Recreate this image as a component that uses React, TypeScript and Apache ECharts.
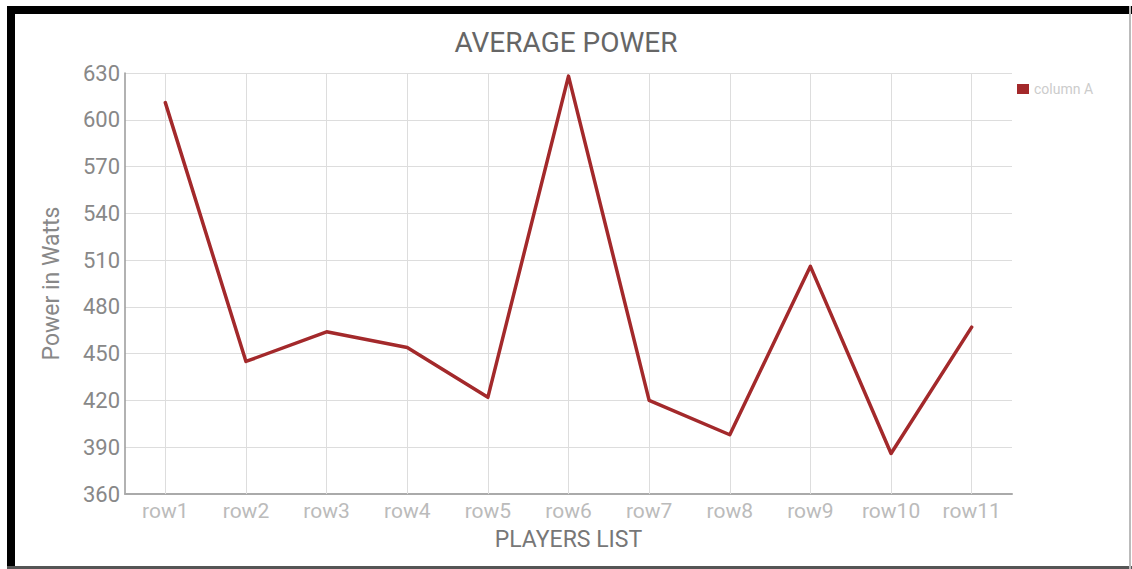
import React, { useEffect, useRef } from "react";
import * as echarts from "echarts";

const categories = ["row1", "row2", "row3", "row4", "row5", "row6", "row7", "row8", "row9", "row10", "row11"];
const columnA = [611, 445, 464, 454, 422, 628, 420, 398, 506, 386, 467];
const yMin = 360;
const yMax = 630;
const yStep = 30;

export default function App() {
  const ref = useRef<HTMLDivElement>(null);
  useEffect(() => {
    document.body.style.margin = "0";
    const chart = echarts.init(ref.current!, undefined, { renderer: "svg" });
    const font = "Roboto, 'Noto Sans', sans-serif";
    chart.setOption({
      animation: false,
      backgroundColor: "#ffffff",
      title: {
        text: "AVERAGE POWER",
        left: "center",
        top: 28,
        padding: 0,
        textStyle: { fontFamily: font, fontSize: 28, fontWeight: "normal", color: "#666" },
      },
      legend: {
        data: ["column A"],
        left: 1012,
        top: 77,
        icon: "rect",
        itemWidth: 12,
        itemHeight: 10,
        itemGap: 6,
        textStyle: { fontFamily: font, fontSize: 14, color: "#cccccc" },
      },
      grid: { left: 125, right: 120, top: 73, bottom: 75, containLabel: false },
      xAxis: {
        type: "category",
        data: categories,
        boundaryGap: true,
        name: "PLAYERS LIST",
        nameLocation: "middle",
        nameGap: 34,
        nameTextStyle: { fontFamily: font, fontSize: 23, color: "#777" },
        axisLine: { lineStyle: { color: "#aaaaaa", width: 2 } },
        axisTick: { show: false },
        axisLabel: { fontFamily: font, fontSize: 21, color: "#bbbbbb", margin: 6 },
        splitLine: { show: false },
      },
      yAxis: {
        type: "value",
        min: yMin,
        max: yMax,
        interval: yStep,
        name: "Power in Watts",
        nameLocation: "middle",
        nameGap: 62,
        nameTextStyle: { fontFamily: font, fontSize: 23, color: "#888" },
        axisLine: { show: true, lineStyle: { color: "#999999", width: 1.5 } },
        axisTick: { show: false },
        axisLabel: { fontFamily: font, fontSize: 22, color: "#888", margin: 5 },
        splitLine: { show: true, lineStyle: { color: "#dddddd", width: 1 } },
      },
      graphic: [
        { type: "rect", shape: { x: 7, y: 6, width: 1125, height: 8 }, style: { fill: "#000" }, silent: true },
        { type: "rect", shape: { x: 7, y: 6, width: 8, height: 563 }, style: { fill: "#000" }, silent: true },
        { type: "rect", shape: { x: 7, y: 566, width: 1125, height: 3 }, style: { fill: "#555" }, silent: true },
        { type: "rect", shape: { x: 1129, y: 6, width: 2, height: 563 }, style: { fill: "#bbb" }, silent: true },
      ],
      series: [
        {
          name: "grid-lines",
          type: "line",
          data: [],
          z: 1,
          silent: true,
          markLine: {
            silent: true,
            z: 1,
            symbol: "none",
            label: { show: false },
            lineStyle: { type: "solid", color: "#dddddd", width: 1 },
            data: categories.map((c) => ({ xAxis: c })),
          },
        },
        {
          name: "column A",
          type: "line",
          data: columnA,
          z: 10,
          showSymbol: false,
          symbol: "none",
          lineStyle: { color: "#a3292b", width: 3.5, join: "round", cap: "round" },
          itemStyle: { color: "#a3292b" },
        },
      ],
    });
    return () => chart.dispose();
  }, []);
  return <div ref={ref} style={{ position: "absolute", left: 0, top: 0, width: 1132, height: 569 }} />;
}
